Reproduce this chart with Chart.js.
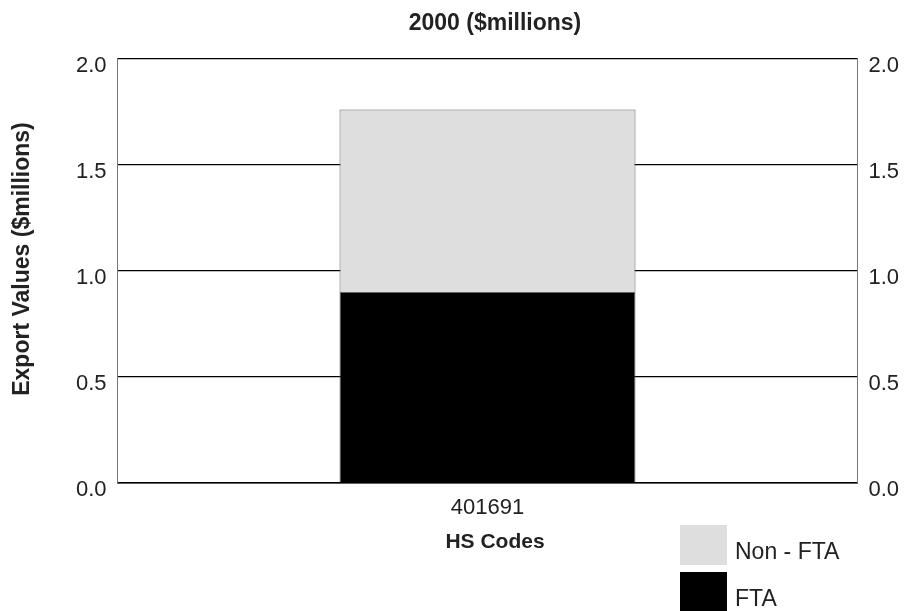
<!DOCTYPE html>
<html>
<head>
<meta charset="utf-8">
<script src="https://cdn.jsdelivr.net/npm/chart.js@4/dist/chart.umd.min.js"></script>
<style>
  html, body { margin: 0; padding: 0; background: #fff; }
  #wrap { width: 906px; height: 611px; }
</style>
</head>
<body>
<div id="wrap"><canvas id="chart" width="906" height="611"></canvas></div>
<script>
// values
const categories = ['401691'];
const ftaValues = [0.90];
const nonFtaValues = [0.86];
const yTicks = [0, 0.5, 1.0, 1.5, 2.0];

const chartTitle = '2000 ($millions)';
const xTitle = 'HS Codes';
const yTitle = 'Export Values ($millions)';

const FONT = '"Liberation Sans", Arial, sans-serif';
const TEXT = '#222';

// titles and the box legend (Non - FTA on top), drawn on the canvas
const decorations = {
  id: 'decorations',
  afterDraw(chart) {
    const ctx = chart.ctx;
    ctx.save();
    ctx.fillStyle = TEXT;
    ctx.textAlign = 'center';
    ctx.textBaseline = 'middle';

    ctx.font = 'bold 23px ' + FONT;
    ctx.fillText(chartTitle, 495, 24);

    ctx.font = 'bold 21px ' + FONT;
    ctx.fillText(xTitle, 495, 542);

    ctx.save();
    ctx.translate(23, 259);
    ctx.rotate(-Math.PI / 2);
    ctx.font = 'bold 23px ' + FONT;
    ctx.fillText(yTitle, 0, 0);
    ctx.restore();

    ctx.textAlign = 'left';
    ctx.font = '23px ' + FONT;
    const items = chart.data.datasets.slice().reverse();
    items.forEach((ds, i) => {
      const y = 525 + i * 47;
      ctx.fillStyle = ds.backgroundColor;
      ctx.fillRect(680, y, 47, 40);
      ctx.fillStyle = TEXT;
      ctx.fillText(ds.label, 735, y + 28);
    });
    ctx.restore();
  }
};

const tickFont = { family: FONT, size: 22 };

new Chart(document.getElementById('chart'), {
  type: 'bar',
  data: {
    labels: categories,
    datasets: [
      {
        label: 'FTA',
        data: ftaValues,
        backgroundColor: '#000000',
        borderColor: '#666666',
        borderWidth: 1,
        borderSkipped: 'bottom'
      },
      {
        label: 'Non - FTA',
        data: nonFtaValues,
        backgroundColor: '#dedede',
        borderColor: '#666666',
        borderWidth: 1,
        borderSkipped: 'bottom'
      }
    ]
  },
  options: {
    responsive: false,
    animation: false,
    layout: { padding: { top: 58.7 } },
    datasets: { bar: { barPercentage: 0.4, categoryPercentage: 1.0 } },
    plugins: {
      legend: { display: false },
      tooltip: { enabled: false },
      title: { display: false }
    },
    scales: {
      x: {
        stacked: true,
        grid: { display: false, drawTicks: false },
        border: { color: '#000', width: 1.5 },
        ticks: { color: TEXT, padding: 12, font: tickFont },
        afterFit(s) { s.height = 128.3; }
      },
      y: {
        stacked: true,
        min: 0,
        max: 2,
        afterBuildTicks(s) { s.ticks = yTicks.map(v => ({ value: v })); },
        grid: { color: '#000', lineWidth: 1.3, drawTicks: false },
        border: { color: '#777', width: 1 },
        ticks: {
          color: TEXT,
          padding: 11,
          labelOffset: 7,
          font: tickFont,
          callback: v => v.toFixed(1)
        },
        afterFit(s) { s.width = 117.5; }
      },
      y2: {
        position: 'right',
        min: 0,
        max: 2,
        afterBuildTicks(s) { s.ticks = yTicks.map(v => ({ value: v })); },
        grid: { display: false, drawTicks: false },
        border: { color: '#777', width: 1 },
        ticks: {
          color: TEXT,
          padding: 11,
          labelOffset: 7,
          font: tickFont,
          callback: v => v.toFixed(1)
        },
        afterFit(s) { s.width = 48.5; }
      }
    }
  },
  plugins: [decorations]
});
</script>
</body>
</html>
